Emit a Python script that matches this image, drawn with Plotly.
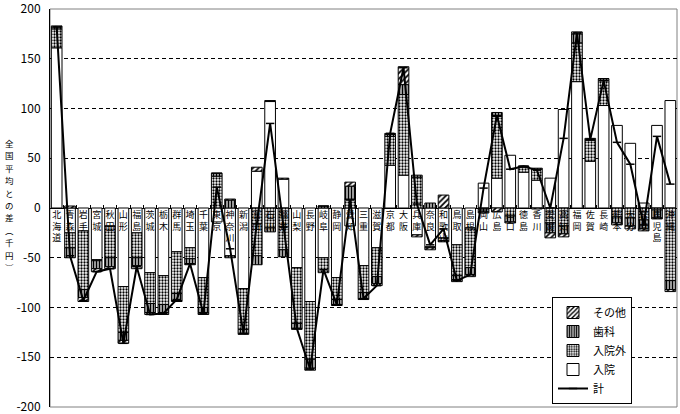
import plotly.graph_objects as go

prefectures = ["北海道", "青森", "岩手", "宮城", "秋田", "山形", "福島", "茨城", "栃木", "群馬",
               "埼玉", "千葉", "東京", "神奈川", "新潟", "富山", "石川", "福井", "山梨", "長野",
               "岐阜", "静岡", "愛知", "三重", "滋賀", "京都", "大阪", "兵庫", "奈良", "和歌山",
               "鳥取", "島根", "岡山", "広島", "山口", "徳島", "香川", "愛媛", "高知", "福岡",
               "佐賀", "長崎", "熊本", "大分", "宮崎", "鹿児島", "沖縄"]

inpatient = [161, -25, -23, -52, -18, -79, -25, -65, -68, -44,
             -40, -70, -14, -48, -81, 37, 107, 29, -60, -94,
             -50, -70, -18, -58, -40, 43, 33, -27, -39, -30,
             -37, -20, 25, 30, 53, 36, 28, 30, 99, 127,
             47, 103, 83, 65, 5, 83, 108]
outpatient = [19, -15, -59, -1, -32, -46, -25, -31, -29, -42,
              -11, -30, 32, -2, -41, -48, -20, -42, -56, -58,
              -15, -22, 9, -27, -29, 29, 81, 31, -1, -3,
              -31, -40, -1, 62, -8, 5, 11, -15, -18, 39,
              21, 25, -9, -10, -12, -2, -73]
dental = [2, -10, -8, -8, -9, -8, -8, -9, -8, -7,
          -5, -5, 3, 8, -4, -9, -4, -7, -5, -9,
          2, -5, 13, -6, -7, 2, 10, 2, 5, -1,
          -4, -7, -3, 4, -6, 1, 1, -10, -8, 9,
          1, 2, -6, -8, -9, -8, -9]
other = [1, 2, -4, -3, -2, -3, -3, -2, -2, -1,
         -1, -2, 0, 1, -1, 4, 1, 1, -1, -2,
         0, -1, 4, -1, -2, 1, 18, -2, -2, 13,
         -2, -2, -1, -4, -1, 0, -1, -5, -3, 2,
         1, 0, -2, -3, -2, -1, -2]
total = [182, -48, -93, -64, -61, -136, -59, -107, -106, -92,
         -56, -106, 21, -41, -126, -16, 85, -19, -121, -162,
         -62, -97, 8, -91, -78, 75, 141, 4, -37, -21,
         -73, -67, 20, 93, 39, 42, 38, 0, 70, 176,
         69, 128, 66, 44, -17, 72, 24]

y_title = "全国平均との差（千円）"
y_ticks = [200, 150, 100, 50, 0, -50, -100, -150, -200]

tick_labels = ["<br>".join(p) for p in prefectures]
FONT = "Noto Sans CJK JP"

fig = go.Figure()
outline = dict(color="black", width=1)
fig.add_bar(x=prefectures, y=inpatient, name="入院", legendrank=4,
            marker=dict(color="white", line=outline))
fig.add_bar(x=prefectures, y=outpatient, name="入院外", legendrank=3,
            marker=dict(color="white", line=outline,
                        pattern=dict(shape=".", fgcolor="black", bgcolor="white",
                                     size=3, solidity=0.45, fillmode="replace")))
fig.add_bar(x=prefectures, y=dental, name="歯科", legendrank=2,
            marker=dict(color="white", line=outline,
                        pattern=dict(shape="|", fgcolor="black", bgcolor="white",
                                     size=3, solidity=0.6, fillmode="replace")))
fig.add_bar(x=prefectures, y=other, name="その他", legendrank=1,
            marker=dict(color="white", line=outline,
                        pattern=dict(shape="/", fgcolor="black", bgcolor="white",
                                     size=4, solidity=0.45, fillmode="replace")))
fig.add_scatter(x=prefectures, y=total, name="計", legendrank=5, mode="lines+markers",
                line=dict(color="black", width=2),
                marker=dict(symbol="line-ew", size=6, color="black",
                            line=dict(color="black", width=1.5)))

plot_top, plot_bottom, plot_left, plot_right = 9, 407, 50, 677

# vertical (tategaki) axis title, one character per line
vert_map = {"（": "︵", "）": "︶"}
for k, ch in enumerate(y_title):
    ypx = 143 + 12.4 * k
    fig.add_annotation(text=vert_map.get(ch, ch), xref="paper", yref="paper",
                       x=(9 - plot_left) / (plot_right - plot_left),
                       y=(plot_bottom - ypx) / (plot_bottom - plot_top),
                       showarrow=False, font=dict(family=FONT, size=8.5, color="black"),
                       xanchor="center", yanchor="middle")

fig.add_shape(type="rect", xref="paper", yref="paper", x0=0, x1=1, y0=0, y1=1,
              line=dict(color="#808080", width=1), layer="below")

fig.update_layout(
    width=680, height=414,
    margin=dict(l=plot_left, r=680 - plot_right, t=plot_top, b=414 - plot_bottom,
                autoexpand=False),
    paper_bgcolor="white", plot_bgcolor="white",
    barmode="relative", bargap=0.2,
    font=dict(family=FONT, color="black"),
    showlegend=True,
    legend=dict(x=(552 - plot_left) / (plot_right - plot_left),
                y=(plot_bottom - 297) / (plot_bottom - plot_top),
                xanchor="left", yanchor="top",
                bordercolor="black", borderwidth=1, bgcolor="white",
                font=dict(family=FONT, size=11), itemwidth=30, tracegroupgap=0),
    yaxis=dict(range=[-200, 200], tickvals=y_ticks, ticktext=[str(v) for v in y_ticks],
               tickfont=dict(family=FONT, size=12), automargin=False,
               ticklabeloverflow="allow",
               showgrid=True, gridcolor="black", gridwidth=1, griddash="4px,3px",
               zeroline=True, zerolinecolor="black", zerolinewidth=1,
               showline=True, linecolor="black", linewidth=1,
               ticks="", ticklabelstandoff=6),
    xaxis=dict(type="category", tickvals=prefectures, ticktext=tick_labels,
               anchor="free", position=0.5, showline=False, showgrid=False,
               ticks="inside", tickson="boundaries", ticklen=3, tickcolor="black",
               tickfont=dict(family=FONT, size=9), tickangle=0, automargin=False,
               range=[-0.5, len(prefectures) - 0.5]),
)

fig.write_html("out.html", config={"displayModeBar": False},
               post_script="document.body.style.margin='0';")
